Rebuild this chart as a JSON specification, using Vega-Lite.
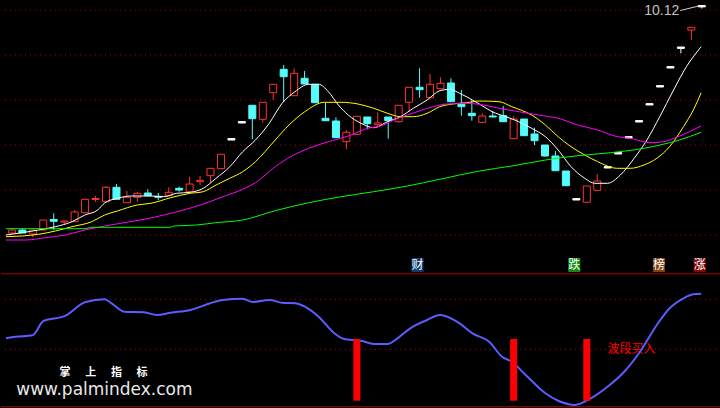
{
  "$schema": "https://vega.github.io/schema/vega-lite/v6.json",
  "background": "#000000",
  "padding": 0,
  "spacing": 0,
  "config": {"view": {"stroke": null}, "concat": {"spacing": 0}},
  "datasets": {
    "k": [
      {"i":0,"o":5.57,"h":5.65,"l":5.55,"c":5.63,"t":"up"},
      {"i":1,"o":5.63,"h":5.656,"l":5.57,"c":5.57,"t":"dn"},
      {"i":2,"o":5.55,"h":5.63,"l":5.49,"c":5.63,"t":"up"},
      {"i":3,"o":5.63,"h":5.83,"l":5.63,"c":5.83,"t":"up"},
      {"i":4,"o":5.84,"h":5.964,"l":5.63,"c":5.804,"t":"dn"},
      {"i":5,"o":5.79,"h":5.81,"l":5.73,"c":5.81,"t":"up"},
      {"i":6,"o":5.796,"h":6.03,"l":5.796,"c":5.99,"t":"up"},
      {"i":7,"o":5.976,"h":6.244,"l":5.976,"c":6.244,"t":"up"},
      {"i":8,"o":6.24,"h":6.31,"l":6.196,"c":6.26,"t":"up"},
      {"i":9,"o":6.196,"h":6.51,"l":6.196,"c":6.484,"t":"up"},
      {"i":10,"o":6.484,"h":6.55,"l":6.244,"c":6.244,"t":"dn"},
      {"i":11,"o":6.176,"h":6.41,"l":6.176,"c":6.284,"t":"up"},
      {"i":12,"o":6.284,"h":6.39,"l":6.196,"c":6.364,"t":"up"},
      {"i":13,"o":6.37,"h":6.444,"l":6.316,"c":6.316,"t":"dn"},
      {"i":14,"o":6.304,"h":6.37,"l":6.23,"c":6.284,"t":"dn"},
      {"i":15,"o":6.316,"h":6.484,"l":6.316,"c":6.384,"t":"up"},
      {"i":16,"o":6.464,"h":6.496,"l":6.396,"c":6.43,"t":"dn"},
      {"i":17,"o":6.396,"h":6.696,"l":6.396,"c":6.55,"t":"up"},
      {"i":18,"o":6.596,"h":6.71,"l":6.53,"c":6.624,"t":"up"},
      {"i":19,"o":6.716,"h":6.864,"l":6.564,"c":6.864,"t":"up"},
      {"i":20,"o":6.856,"h":7.144,"l":6.856,"c":7.144,"t":"up"},
      {"i":21,"o":7.458,"h":7.458,"l":7.43,"c":7.43,"t":"fl"},
      {"i":22,"o":7.798,"h":7.798,"l":7.77,"c":7.77,"t":"fl"},
      {"i":23,"o":8.124,"h":8.124,"l":7.444,"c":7.856,"t":"dn"},
      {"i":24,"o":7.844,"h":8.184,"l":7.776,"c":8.184,"t":"up"},
      {"i":25,"o":8.376,"h":8.544,"l":8.23,"c":8.544,"t":"up"},
      {"i":26,"o":8.844,"h":8.93,"l":8.196,"c":8.696,"t":"dn"},
      {"i":27,"o":8.316,"h":8.864,"l":8.316,"c":8.764,"t":"up"},
      {"i":28,"o":8.664,"h":8.81,"l":8.55,"c":8.55,"t":"dn"},
      {"i":29,"o":8.544,"h":8.544,"l":8.176,"c":8.176,"t":"dn"},
      {"i":30,"o":7.864,"h":8.176,"l":7.816,"c":7.816,"t":"dn"},
      {"i":31,"o":7.81,"h":7.884,"l":7.476,"c":7.476,"t":"dn"},
      {"i":32,"o":7.396,"h":7.63,"l":7.25,"c":7.584,"t":"up"},
      {"i":33,"o":7.544,"h":7.904,"l":7.544,"c":7.904,"t":"up"},
      {"i":34,"o":7.89,"h":7.89,"l":7.644,"c":7.756,"t":"dn"},
      {"i":35,"o":7.736,"h":7.984,"l":7.696,"c":7.77,"t":"up"},
      {"i":36,"o":7.89,"h":7.89,"l":7.456,"c":7.816,"t":"dn"},
      {"i":37,"o":7.796,"h":8.124,"l":7.776,"c":8.124,"t":"up"},
      {"i":38,"o":8.184,"h":8.484,"l":7.996,"c":8.484,"t":"up"},
      {"i":39,"o":8.484,"h":8.864,"l":8.276,"c":8.436,"t":"dn"},
      {"i":40,"o":8.276,"h":8.75,"l":8.276,"c":8.544,"t":"up"},
      {"i":41,"o":8.456,"h":8.684,"l":8.456,"c":8.564,"t":"up"},
      {"i":42,"o":8.57,"h":8.664,"l":8.196,"c":8.196,"t":"dn"},
      {"i":43,"o":8.144,"h":8.43,"l":7.916,"c":8.096,"t":"dn"},
      {"i":44,"o":7.964,"h":8.23,"l":7.816,"c":7.916,"t":"dn"},
      {"i":45,"o":7.784,"h":7.964,"l":7.784,"c":7.91,"t":"up"},
      {"i":46,"o":7.91,"h":8.01,"l":7.884,"c":7.89,"t":"dn"},
      {"i":47,"o":7.916,"h":8.11,"l":7.796,"c":7.796,"t":"dn"},
      {"i":48,"o":7.456,"h":7.91,"l":7.456,"c":7.85,"t":"up"},
      {"i":49,"o":7.85,"h":7.85,"l":7.516,"c":7.516,"t":"dn"},
      {"i":50,"o":7.55,"h":7.676,"l":7.33,"c":7.416,"t":"dn"},
      {"i":51,"o":7.33,"h":7.33,"l":7.096,"c":7.11,"t":"dn"},
      {"i":52,"o":7.11,"h":7.21,"l":6.816,"c":6.816,"t":"dn"},
      {"i":53,"o":6.81,"h":6.81,"l":6.516,"c":6.516,"t":"dn"},
      {"i":54,"o":6.258,"h":6.258,"l":6.23,"c":6.23,"t":"fl"},
      {"i":55,"o":6.184,"h":6.51,"l":6.184,"c":6.51,"t":"up"},
      {"i":56,"o":6.424,"h":6.75,"l":6.424,"c":6.61,"t":"up"},
      {"i":57,"o":6.898,"h":6.898,"l":6.87,"c":6.87,"t":"fl"},
      {"i":58,"o":7.178,"h":7.178,"l":7.15,"c":7.15,"t":"fl"},
      {"i":59,"o":7.498,"h":7.498,"l":7.47,"c":7.47,"t":"fl"},
      {"i":60,"o":7.818,"h":7.818,"l":7.79,"c":7.79,"t":"fl"},
      {"i":61,"o":8.158,"h":8.158,"l":8.13,"c":8.13,"t":"fl"},
      {"i":62,"o":8.518,"h":8.518,"l":8.49,"c":8.49,"t":"fl"},
      {"i":63,"o":8.898,"h":8.898,"l":8.87,"c":8.87,"t":"fl"},
      {"i":64,"o":9.29,"h":9.29,"l":9.164,"c":9.262,"t":"fl"},
      {"i":65,"o":9.63,"h":9.684,"l":9.43,"c":9.684,"t":"up"},
      {"i":66,"o":10.12,"h":10.12,"l":10.06,"c":10.092,"t":"fl"}
    ],
    "ma": [
      {"s":"MA5","i":-0.57,"p":5.53},{"s":"MA5","i":2.55,"p":5.63},{"s":"MA5","i":4.15,"p":5.696},{"s":"MA5","i":5.75,"p":5.796},{"s":"MA5","i":6.98,"p":5.93},{"s":"MA5","i":8.21,"p":6.03},{"s":"MA5","i":8.87,"p":6.17},{"s":"MA5","i":10.09,"p":6.264},{"s":"MA5","i":11.42,"p":6.31},{"s":"MA5","i":13.3,"p":6.31},{"s":"MA5","i":14.53,"p":6.296},{"s":"MA5","i":15.75,"p":6.364},{"s":"MA5","i":17.08,"p":6.384},{"s":"MA5","i":18.3,"p":6.464},{"s":"MA5","i":19.53,"p":6.664},{"s":"MA5","i":20.85,"p":6.896},{"s":"MA5","i":22.08,"p":7.196},{"s":"MA5","i":23.3,"p":7.43},{"s":"MA5","i":24.62,"p":7.764},{"s":"MA5","i":25.85,"p":8.164},{"s":"MA5","i":27.08,"p":8.396},{"s":"MA5","i":28.4,"p":8.544},{"s":"MA5","i":29.34,"p":8.544},{"s":"MA5","i":30.28,"p":8.396},{"s":"MA5","i":31.23,"p":8.13},{"s":"MA5","i":32.17,"p":7.93},{"s":"MA5","i":33.4,"p":7.764},{"s":"MA5","i":34.62,"p":7.676},{"s":"MA5","i":35.94,"p":7.796},{"s":"MA5","i":37.17,"p":7.896},{"s":"MA5","i":38.4,"p":8.064},{"s":"MA5","i":39.72,"p":8.23},{"s":"MA5","i":40.94,"p":8.416},{"s":"MA5","i":41.89,"p":8.444},{"s":"MA5","i":42.83,"p":8.364},{"s":"MA5","i":44.06,"p":8.23},{"s":"MA5","i":44.72,"p":8.15},{"s":"MA5","i":45.94,"p":7.996},{"s":"MA5","i":47.26,"p":7.896},{"s":"MA5","i":48.49,"p":7.796},{"s":"MA5","i":49.72,"p":7.664},{"s":"MA5","i":51.04,"p":7.496},{"s":"MA5","i":52.26,"p":7.23},{"s":"MA5","i":53.49,"p":6.896},{"s":"MA5","i":54.81,"p":6.664},{"s":"MA5","i":55.75,"p":6.564},{"s":"MA5","i":56.98,"p":6.564},{"s":"MA5","i":58.21,"p":6.73},{"s":"MA5","i":59.53,"p":7.064},{"s":"MA5","i":60.75,"p":7.43},{"s":"MA5","i":61.98,"p":7.896},{"s":"MA5","i":63.3,"p":8.43},{"s":"MA5","i":64.53,"p":8.896},{"s":"MA5","i":65.94,"p":9.296},
      {"s":"MA10","i":-0.57,"p":5.496},{"s":"MA10","i":2.55,"p":5.544},{"s":"MA10","i":4.15,"p":5.61},{"s":"MA10","i":5.75,"p":5.696},{"s":"MA10","i":7.64,"p":5.796},{"s":"MA10","i":8.87,"p":5.93},{"s":"MA10","i":10.09,"p":6.01},{"s":"MA10","i":11.98,"p":6.13},{"s":"MA10","i":13.3,"p":6.164},{"s":"MA10","i":15.19,"p":6.276},{"s":"MA10","i":17.08,"p":6.364},{"s":"MA10","i":18.3,"p":6.396},{"s":"MA10","i":19.53,"p":6.53},{"s":"MA10","i":20.85,"p":6.664},{"s":"MA10","i":22.08,"p":6.796},{"s":"MA10","i":23.3,"p":6.996},{"s":"MA10","i":25.19,"p":7.43},{"s":"MA10","i":26.51,"p":7.73},{"s":"MA10","i":28.02,"p":7.996},{"s":"MA10","i":29.91,"p":8.184},{"s":"MA10","i":31.51,"p":8.184},{"s":"MA10","i":33.11,"p":8.15},{"s":"MA10","i":34.62,"p":8.064},{"s":"MA10","i":35.94,"p":7.964},{"s":"MA10","i":37.17,"p":7.896},{"s":"MA10","i":38.4,"p":7.896},{"s":"MA10","i":39.72,"p":7.964},{"s":"MA10","i":40.94,"p":8.096},{"s":"MA10","i":42.17,"p":8.15},{"s":"MA10","i":43.49,"p":8.176},{"s":"MA10","i":44.72,"p":8.21},{"s":"MA10","i":46.6,"p":8.196},{"s":"MA10","i":47.83,"p":8.096},{"s":"MA10","i":49.72,"p":7.93},{"s":"MA10","i":51.04,"p":7.73},{"s":"MA10","i":52.26,"p":7.496},{"s":"MA10","i":53.49,"p":7.296},{"s":"MA10","i":54.81,"p":7.13},{"s":"MA10","i":56.04,"p":6.996},{"s":"MA10","i":57.92,"p":6.864},{"s":"MA10","i":59.15,"p":6.864},{"s":"MA10","i":60.47,"p":6.93},{"s":"MA10","i":61.7,"p":7.064},{"s":"MA10","i":62.92,"p":7.296},{"s":"MA10","i":64.25,"p":7.696},{"s":"MA10","i":65.19,"p":8.03},{"s":"MA10","i":65.94,"p":8.376},
      {"s":"MA20","i":-0.57,"p":5.43},{"s":"MA20","i":1.32,"p":5.43},{"s":"MA20","i":3.21,"p":5.476},{"s":"MA20","i":5.09,"p":5.53},{"s":"MA20","i":6.98,"p":5.63},{"s":"MA20","i":8.87,"p":5.71},{"s":"MA20","i":10.75,"p":5.776},{"s":"MA20","i":12.64,"p":5.844},{"s":"MA20","i":14.53,"p":5.93},{"s":"MA20","i":16.42,"p":6.03},{"s":"MA20","i":18.3,"p":6.15},{"s":"MA20","i":20.19,"p":6.296},{"s":"MA20","i":22.08,"p":6.444},{"s":"MA20","i":23.3,"p":6.576},{"s":"MA20","i":25.19,"p":6.896},{"s":"MA20","i":26.79,"p":7.11},{"s":"MA20","i":28.4,"p":7.264},{"s":"MA20","i":30.28,"p":7.396},{"s":"MA20","i":32.17,"p":7.51},{"s":"MA20","i":34.06,"p":7.664},{"s":"MA20","i":35.28,"p":7.71},{"s":"MA20","i":36.51,"p":7.83},{"s":"MA20","i":37.83,"p":7.93},{"s":"MA20","i":39.06,"p":8.016},{"s":"MA20","i":40.28,"p":8.096},{"s":"MA20","i":41.6,"p":8.15},{"s":"MA20","i":43.49,"p":8.164},{"s":"MA20","i":44.72,"p":8.144},{"s":"MA20","i":46.6,"p":8.064},{"s":"MA20","i":48.49,"p":7.996},{"s":"MA20","i":50.38,"p":7.93},{"s":"MA20","i":52.26,"p":7.864},{"s":"MA20","i":54.15,"p":7.73},{"s":"MA20","i":56.04,"p":7.63},{"s":"MA20","i":57.92,"p":7.496},{"s":"MA20","i":59.15,"p":7.464},{"s":"MA20","i":61.04,"p":7.376},{"s":"MA20","i":62.36,"p":7.396},{"s":"MA20","i":63.58,"p":7.484},{"s":"MA20","i":64.81,"p":7.596},{"s":"MA20","i":65.94,"p":7.71},
      {"s":"MA60","i":-0.57,"p":5.656},{"s":"MA60","i":6.98,"p":5.656},{"s":"MA60","i":7.64,"p":5.684},{"s":"MA60","i":15.19,"p":5.684},{"s":"MA60","i":15.47,"p":5.71},{"s":"MA60","i":17.64,"p":5.73},{"s":"MA60","i":19.53,"p":5.776},{"s":"MA60","i":22.08,"p":5.83},{"s":"MA60","i":25.19,"p":6.016},{"s":"MA60","i":28.4,"p":6.176},{"s":"MA60","i":31.51,"p":6.296},{"s":"MA60","i":34.62,"p":6.396},{"s":"MA60","i":37.83,"p":6.51},{"s":"MA60","i":40.94,"p":6.644},{"s":"MA60","i":44.72,"p":6.81},{"s":"MA60","i":47.83,"p":6.91},{"s":"MA60","i":51.04,"p":7.03},{"s":"MA60","i":54.15,"p":7.116},{"s":"MA60","i":57.26,"p":7.176},{"s":"MA60","i":60.47,"p":7.264},{"s":"MA60","i":62.92,"p":7.376},{"s":"MA60","i":64.81,"p":7.496},{"s":"MA60","i":65.94,"p":7.584}
    ],
    "ind": [
      {"i":-0.57,"v":33.2},{"i":0.38,"v":35.1},{"i":1.98,"v":36.8},{"i":3.02,"v":54.0},{"i":5.09,"v":60.0},{"i":6.98,"v":76.4},{"i":8.87,"v":80.0},{"i":9.53,"v":75.2},{"i":10.75,"v":65.1},{"i":12.64,"v":64.4},{"i":13.87,"v":61.2},{"i":15.19,"v":63.9},{"i":17.08,"v":67.2},{"i":18.96,"v":75.2},{"i":20.19,"v":79.2},{"i":22.08,"v":80.7},{"i":23.02,"v":76.8},{"i":24.62,"v":79.2},{"i":25.85,"v":75.9},{"i":27.08,"v":75.2},{"i":28.02,"v":71.1},{"i":29.34,"v":59.1},{"i":30.85,"v":39.2},{"i":31.79,"v":32.4},{"i":32.74,"v":31.2},{"i":33.4,"v":30.3},{"i":34.62,"v":26.4},{"i":35.94,"v":26.4},{"i":36.89,"v":33.2},{"i":38.11,"v":45.2},{"i":39.72,"v":55.2},{"i":40.94,"v":61.2},{"i":42.83,"v":51.2},{"i":44.06,"v":39.2},{"i":45.66,"v":29.1},{"i":46.89,"v":11.1},{"i":47.83,"v":5.1},{"i":49.15,"v":-10.8},{"i":51.04,"v":-32.8},{"i":52.26,"v":-41.7},{"i":53.87,"v":-46.8},{"i":55.38,"v":-38.8},{"i":56.98,"v":-24.9},{"i":58.58,"v":-6.9},{"i":60.09,"v":17.1},{"i":61.7,"v":49.2},{"i":62.92,"v":69.2},{"i":64.25,"v":81.2},{"i":65.19,"v":86.0},{"i":65.94,"v":86.7}
    ],
    "sig": [{"i":33,"a":32.4,"b":-41.7},{"i":48,"a":32.4,"b":-41.7},{"i":55,"a":32.4,"b":-41.7}],
    "badges": [
      {"i":38.8,"txt":"财","bg":"#0c3d70"},
      {"i":53.8,"txt":"跌","bg":"#138a13"},
      {"i":61.9,"txt":"榜","bg":"#7a4010"},
      {"i":65.8,"txt":"涨","bg":"#7e0808"}
    ],
    "wm": [
      {"i":5.09,"txt":"掌"},{"i":7.55,"txt":"上"},{"i":10.0,"txt":"指"},{"i":12.45,"txt":"标"}
    ]
  },
  "vconcat": [
    {
      "width": 720,
      "height": 273,
      "resolve": {"scale": {"color": "independent", "fill": "independent", "stroke": "independent"}},
      "layer": [
        {
          "data": {"values": [{"g":10.03},{"g":9.13},{"g":8.23},{"g":7.33},{"g":6.43},{"g":5.53}]},
          "mark": {"type": "rule", "color": "#b00000", "strokeDash": [1, 4], "strokeWidth": 1},
          "encoding": {"y": {"field": "g", "type": "quantitative", "scale": {"domain": [4.77, 10.23], "nice": false, "zero": false}, "axis": null}}
        },
        {
          "data": {"name": "k"},
          "mark": {"type": "rule", "strokeWidth": 1},
          "encoding": {
            "x": {"field": "i", "type": "quantitative", "scale": {"domain": [-0.566, 67.36], "nice": false, "zero": false}, "axis": null},
            "y": {"field": "l", "type": "quantitative", "scale": {"domain": [4.77, 10.23], "nice": false, "zero": false}, "axis": null},
            "y2": {"field": "h"},
            "stroke": {"field": "t", "type": "nominal", "scale": {"domain": ["up", "dn", "fl"], "range": ["#ff3232", "#54fcfc", "#ffffff"]}, "legend": null}
          }
        },
        {
          "data": {"name": "k"},
          "mark": {"type": "bar", "width": 7, "strokeWidth": 1, "fillOpacity": 1},
          "encoding": {
            "x": {"field": "i", "type": "quantitative", "scale": {"domain": [-0.566, 67.36], "nice": false, "zero": false}, "axis": null},
            "y": {"field": "o", "type": "quantitative", "scale": {"domain": [4.77, 10.23], "nice": false, "zero": false}, "axis": null},
            "y2": {"field": "c"},
            "stroke": {"field": "t", "type": "nominal", "scale": {"domain": ["up", "dn", "fl"], "range": ["#ff3232", "#54fcfc", "#ffffff"]}, "legend": null},
            "fill": {"field": "t", "type": "nominal", "scale": {"domain": ["up", "dn", "fl"], "range": ["#000000", "#54fcfc", "#ffffff"]}, "legend": null}
          }
        },
        {
          "data": {"name": "ma"},
          "mark": {"type": "line", "strokeWidth": 1, "interpolate": "monotone"},
          "encoding": {
            "x": {"field": "i", "type": "quantitative", "scale": {"domain": [-0.566, 67.36], "nice": false, "zero": false}, "axis": null},
            "y": {"field": "p", "type": "quantitative", "scale": {"domain": [4.77, 10.23], "nice": false, "zero": false}, "axis": null},
            "color": {"field": "s", "type": "nominal", "scale": {"domain": ["MA5", "MA10", "MA20", "MA60"], "range": ["#ffffff", "#ffff00", "#ff00ff", "#00ff00"]}, "legend": null}
          }
        },
        {
          "data": {"name": "badges"},
          "mark": {"type": "bar", "width": 12},
          "encoding": {
            "x": {"field": "i", "type": "quantitative", "scale": {"domain": [-0.566, 67.36], "nice": false, "zero": false}, "axis": null},
            "y": {"datum": 5.07, "type": "quantitative", "scale": {"domain": [4.77, 10.23], "nice": false, "zero": false}, "axis": null},
            "y2": {"datum": 4.79},
            "fill": {"field": "bg", "type": "nominal", "scale": null}
          }
        },
        {
          "data": {"name": "badges"},
          "mark": {"type": "text", "color": "#ffffff", "fontSize": 12, "font": "Noto Sans CJK SC", "baseline": "middle", "align": "center"},
          "encoding": {
            "x": {"field": "i", "type": "quantitative", "scale": {"domain": [-0.566, 67.36], "nice": false, "zero": false}, "axis": null},
            "y": {"datum": 4.93, "type": "quantitative", "scale": {"domain": [4.77, 10.23], "nice": false, "zero": false}, "axis": null},
            "text": {"field": "txt"}
          }
        },
        {
          "data": {"values": [{"i":63.85,"p":10.016,"txt":"10.12"}]},
          "mark": {"type": "text", "color": "#c0c0c0", "fontSize": 14, "font": "Liberation Sans", "align": "right", "baseline": "middle"},
          "encoding": {
            "x": {"field": "i", "type": "quantitative", "scale": {"domain": [-0.566, 67.36], "nice": false, "zero": false}, "axis": null},
            "y": {"field": "p", "type": "quantitative", "scale": {"domain": [4.77, 10.23], "nice": false, "zero": false}, "axis": null},
            "text": {"field": "txt"}
          }
        },
        {
          "data": {"values": [{"i":63.95,"p":10.02,"i2":65.7,"p2":10.11}]},
          "mark": {"type": "rule", "color": "#d0d0d0", "strokeWidth": 1},
          "encoding": {
            "x": {"field": "i", "type": "quantitative", "scale": {"domain": [-0.566, 67.36], "nice": false, "zero": false}, "axis": null},
            "x2": {"field": "i2"},
            "y": {"field": "p", "type": "quantitative", "scale": {"domain": [4.77, 10.23], "nice": false, "zero": false}, "axis": null},
            "y2": {"field": "p2"}
          }
        }
      ]
    },
    {
      "width": 720,
      "height": 135,
      "layer": [
        {
          "data": {"values": [{"g":80},{"g":20}]},
          "mark": {"type": "rule", "color": "#b00000", "strokeDash": [1, 4], "strokeWidth": 1},
          "encoding": {"y": {"field": "g", "type": "quantitative", "scale": {"domain": [-50.44, 111.56], "nice": false, "zero": false}, "axis": null}}
        },
        {
          "data": {"values": [{"g":110.6},{"g":-48.9}]},
          "mark": {"type": "rule", "color": "#a80000", "strokeWidth": 1},
          "encoding": {"y": {"field": "g", "type": "quantitative", "scale": {"domain": [-50.44, 111.56], "nice": false, "zero": false}, "axis": null}}
        },
        {
          "data": {"name": "wm"},
          "mark": {"type": "text", "color": "#ffffff", "fontSize": 11, "fontWeight": "bold", "font": "Noto Sans CJK SC", "align": "center", "baseline": "middle"},
          "encoding": {
            "x": {"field": "i", "type": "quantitative", "scale": {"domain": [-0.566, 67.36], "nice": false, "zero": false}, "axis": null},
            "y": {"datum": -8.6, "type": "quantitative", "scale": {"domain": [-50.44, 111.56], "nice": false, "zero": false}, "axis": null},
            "text": {"field": "txt"}
          }
        },
        {
          "data": {"values": [{"i":8.85,"v":-34.8,"txt":"www.palmindex.com"}]},
          "mark": {"type": "text", "color": "#e8e8e8", "fontSize": 17, "font": "DejaVu Sans", "align": "center", "baseline": "alphabetic"},
          "encoding": {
            "x": {"field": "i", "type": "quantitative", "scale": {"domain": [-0.566, 67.36], "nice": false, "zero": false}, "axis": null},
            "y": {"field": "v", "type": "quantitative", "scale": {"domain": [-50.44, 111.56], "nice": false, "zero": false}, "axis": null},
            "text": {"field": "txt"}
          }
        },
        {
          "data": {"values": [{"i":56.98,"v":20.4,"txt":"波段买入"}]},
          "mark": {"type": "text", "color": "#ff0000", "fontSize": 12, "font": "Noto Sans CJK SC", "align": "left", "baseline": "middle"},
          "encoding": {
            "x": {"field": "i", "type": "quantitative", "scale": {"domain": [-0.566, 67.36], "nice": false, "zero": false}, "axis": null},
            "y": {"field": "v", "type": "quantitative", "scale": {"domain": [-50.44, 111.56], "nice": false, "zero": false}, "axis": null},
            "text": {"field": "txt"}
          }
        },
        {
          "data": {"name": "ind"},
          "mark": {"type": "line", "color": "#5c5cff", "strokeWidth": 2, "interpolate": "monotone"},
          "encoding": {
            "x": {"field": "i", "type": "quantitative", "scale": {"domain": [-0.566, 67.36], "nice": false, "zero": false}, "axis": null},
            "y": {"field": "v", "type": "quantitative", "scale": {"domain": [-50.44, 111.56], "nice": false, "zero": false}, "axis": null}
          }
        },
        {
          "data": {"name": "sig"},
          "mark": {"type": "bar", "width": 7, "color": "#ff0000"},
          "encoding": {
            "x": {"field": "i", "type": "quantitative", "scale": {"domain": [-0.566, 67.36], "nice": false, "zero": false}, "axis": null},
            "y": {"field": "a", "type": "quantitative", "scale": {"domain": [-50.44, 111.56], "nice": false, "zero": false}, "axis": null},
            "y2": {"field": "b"}
          }
        }
      ]
    }
  ]
}
